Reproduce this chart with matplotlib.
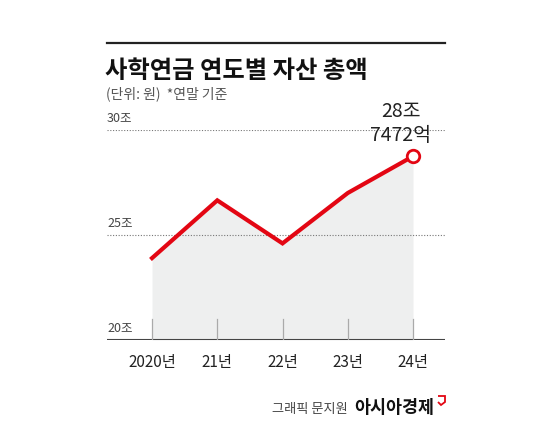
import matplotlib
matplotlib.use("Agg")
import matplotlib.pyplot as plt
from matplotlib.lines import Line2D
from matplotlib.patches import Polygon

plt.rcParams['font.family'] = ['Noto Sans CJK KR', 'DejaVu Sans']

years = ['2020년', '21년', '22년', '23년', '24년']
assets = [23.9, 26.65, 24.6, 27.0, 28.75]   # 조 원
y_ticks = [20, 25, 30]
y_labels = ['20조', '25조', '30조']
last_label = '28조\n7472억'

red = '#e30613'
W, H = 550, 440
fig = plt.figure(figsize=(5.5, 4.4), dpi=100)

def px(x, y):
    return x / W, 1 - y / H

# top rule
fig.add_artist(Line2D([107 / W, 445 / W], [1 - 43 / H] * 2, color='#222222', lw=1.6))
fig.text(*px(105, 71), '사학연금 연도별 자산 총액', fontsize=17.5, fontweight='heavy',
         color='#111111', va='center', ha='left')
fig.text(*px(106, 94), '(단위: 원)  *연말 기준', fontsize=10, color='#555555',
         va='center', ha='left')

ax = fig.add_axes([107 / W, 1 - 340 / H, 338 / W, 210 / H])
x = list(range(len(years)))
ax.set_xlim(-0.69, 4.49)
ax.set_ylim(20, 30)
ax.axis('off')

ax.fill_between(x, assets, 20, color='#eeefef', lw=0)
for yv in [25, 30]:
    ax.axhline(yv, color='#777777', lw=0.8, ls=(0, (1, 1.5)))
ax.axhline(20, color='#444444', lw=1.5)
for yv, lab in zip(y_ticks, y_labels):
    ax.text(-0.69, yv + 0.25, lab, fontsize=9, color='#444444', ha='left', va='bottom')
for xi in x:
    ax.plot([xi, xi], [20, 21], color='#aaaaaa', lw=0.9)
    ax.text(xi, 18.95, years[xi], fontsize=11, color='#222222', ha='center', va='center')

ax.plot(x, assets, color=red, lw=3, solid_joinstyle='miter', clip_on=False)
ax.plot(x[-1], assets[-1], 'o', ms=9, mfc='white', mec=red, mew=2, clip_on=False)
ax.text(x[-1] - 0.19, assets[-1] + 0.5, last_label, fontsize=14, color='#222222',
        ha='center', va='bottom', linespacing=1.15)

fig.text(*px(348, 409), '그래픽 문지원', fontsize=9.5, color='#444444', ha='right', va='center')
fig.text(*px(354, 408), '아시아경제', fontsize=12.5, fontweight='heavy', color='#111111',
         ha='left', va='center')
fig.add_artist(Polygon([px(438, 396), px(445, 396), px(445, 402), px(441, 405), px(438, 402)],
                       closed=False, fill=False, edgecolor=red, lw=1.3,
                       transform=fig.transFigure))

fig.savefig('out.png', dpi=100, facecolor='white')
